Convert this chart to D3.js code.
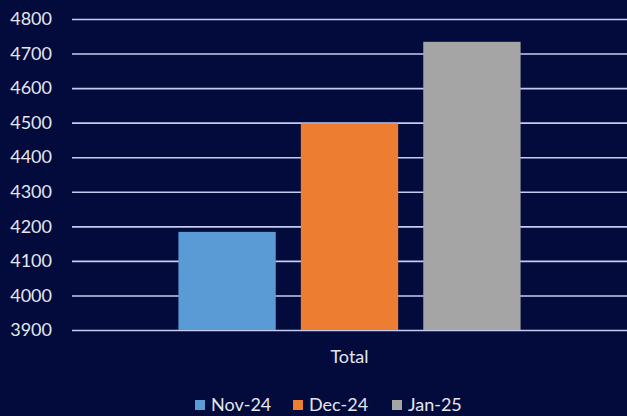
<!DOCTYPE html>
<html><head><meta charset="utf-8">
<script src="https://cdn.jsdelivr.net/npm/d3@7"></script>
<style>
html,body{margin:0;padding:0;background:#020b3b;}
svg{display:block;}
text{font-family:Lato,"Open Sans",sans-serif;}
</style></head>
<body>
<svg id="chart" width="627" height="416"></svg>
<script>
const categories = ["Total"];
const seriesNames = ["Nov-24", "Dec-24", "Jan-25"];
const seriesValues = [4184, 4498, 4734];
const seriesColors = ["#5b9bd5", "#ed7d31", "#a5a5a5"];
const yTicks = [3900, 4000, 4100, 4200, 4300, 4400, 4500, 4600, 4700, 4800];

const svg = d3.select("#chart");
const W = 627, H = 416;
const m = {left: 72, right: 0, top: 19, bottom: 86};

svg.append("rect").attr("width", W).attr("height", H).attr("fill", "#020b3b");

const y = d3.scaleLinear().domain([3900, 4800]).range([H - m.bottom, m.top]);
const x0 = d3.scaleBand().domain(categories).range([m.left, W - m.right]).paddingInner(0).paddingOuter(0.311);
const x1 = d3.scaleBand().domain(seriesNames).range([0, x0.bandwidth()]).paddingInner(0.205).paddingOuter(0);

// gridlines
const yAxis = d3.axisLeft(y).tickValues(yTicks).tickSize(-(W - m.left - m.right)).tickPadding(20).tickFormat(d3.format("d"));
const gy = svg.append("g").attr("transform", `translate(${m.left},0)`).call(yAxis);
gy.select(".domain").remove();
gy.selectAll(".tick line").attr("stroke", "#c4cdef").attr("stroke-width", 1.6);
gy.selectAll(".tick text").attr("fill", "#e4e6f0").attr("font-size", 18).attr("x", -20);

// bars
const data = seriesNames.map((s, i) => ({cat: categories[0], name: s, value: seriesValues[i], color: seriesColors[i]}));
svg.append("g").selectAll("rect").data(data).join("rect")
  .attr("x", d => x0(d.cat) + x1(d.name))
  .attr("y", d => y(d.value))
  .attr("width", x1.bandwidth())
  .attr("height", d => y(3900) - y(d.value))
  .attr("fill", d => d.color);

// category label
svg.append("g").selectAll("text").data(categories).join("text")
  .attr("x", d => x0(d) + x0.bandwidth() / 2)
  .attr("y", 363)
  .attr("text-anchor", "middle")
  .attr("fill", "#e4e6f0")
  .attr("font-size", 18)
  .text(d => d);

// legend
const legendX = [195, 293, 392];
const lg = svg.append("g").selectAll("g").data(data).join("g")
  .attr("transform", (d, i) => `translate(${legendX[i]},405)`);
lg.append("rect").attr("x", 0).attr("y", -5).attr("width", 10).attr("height", 10).attr("fill", d => d.color);
lg.append("text").attr("x", 16).attr("y", 6).attr("fill", "#e4e6f0").attr("font-size", 18).text(d => d.name);
</script>
</body></html>
